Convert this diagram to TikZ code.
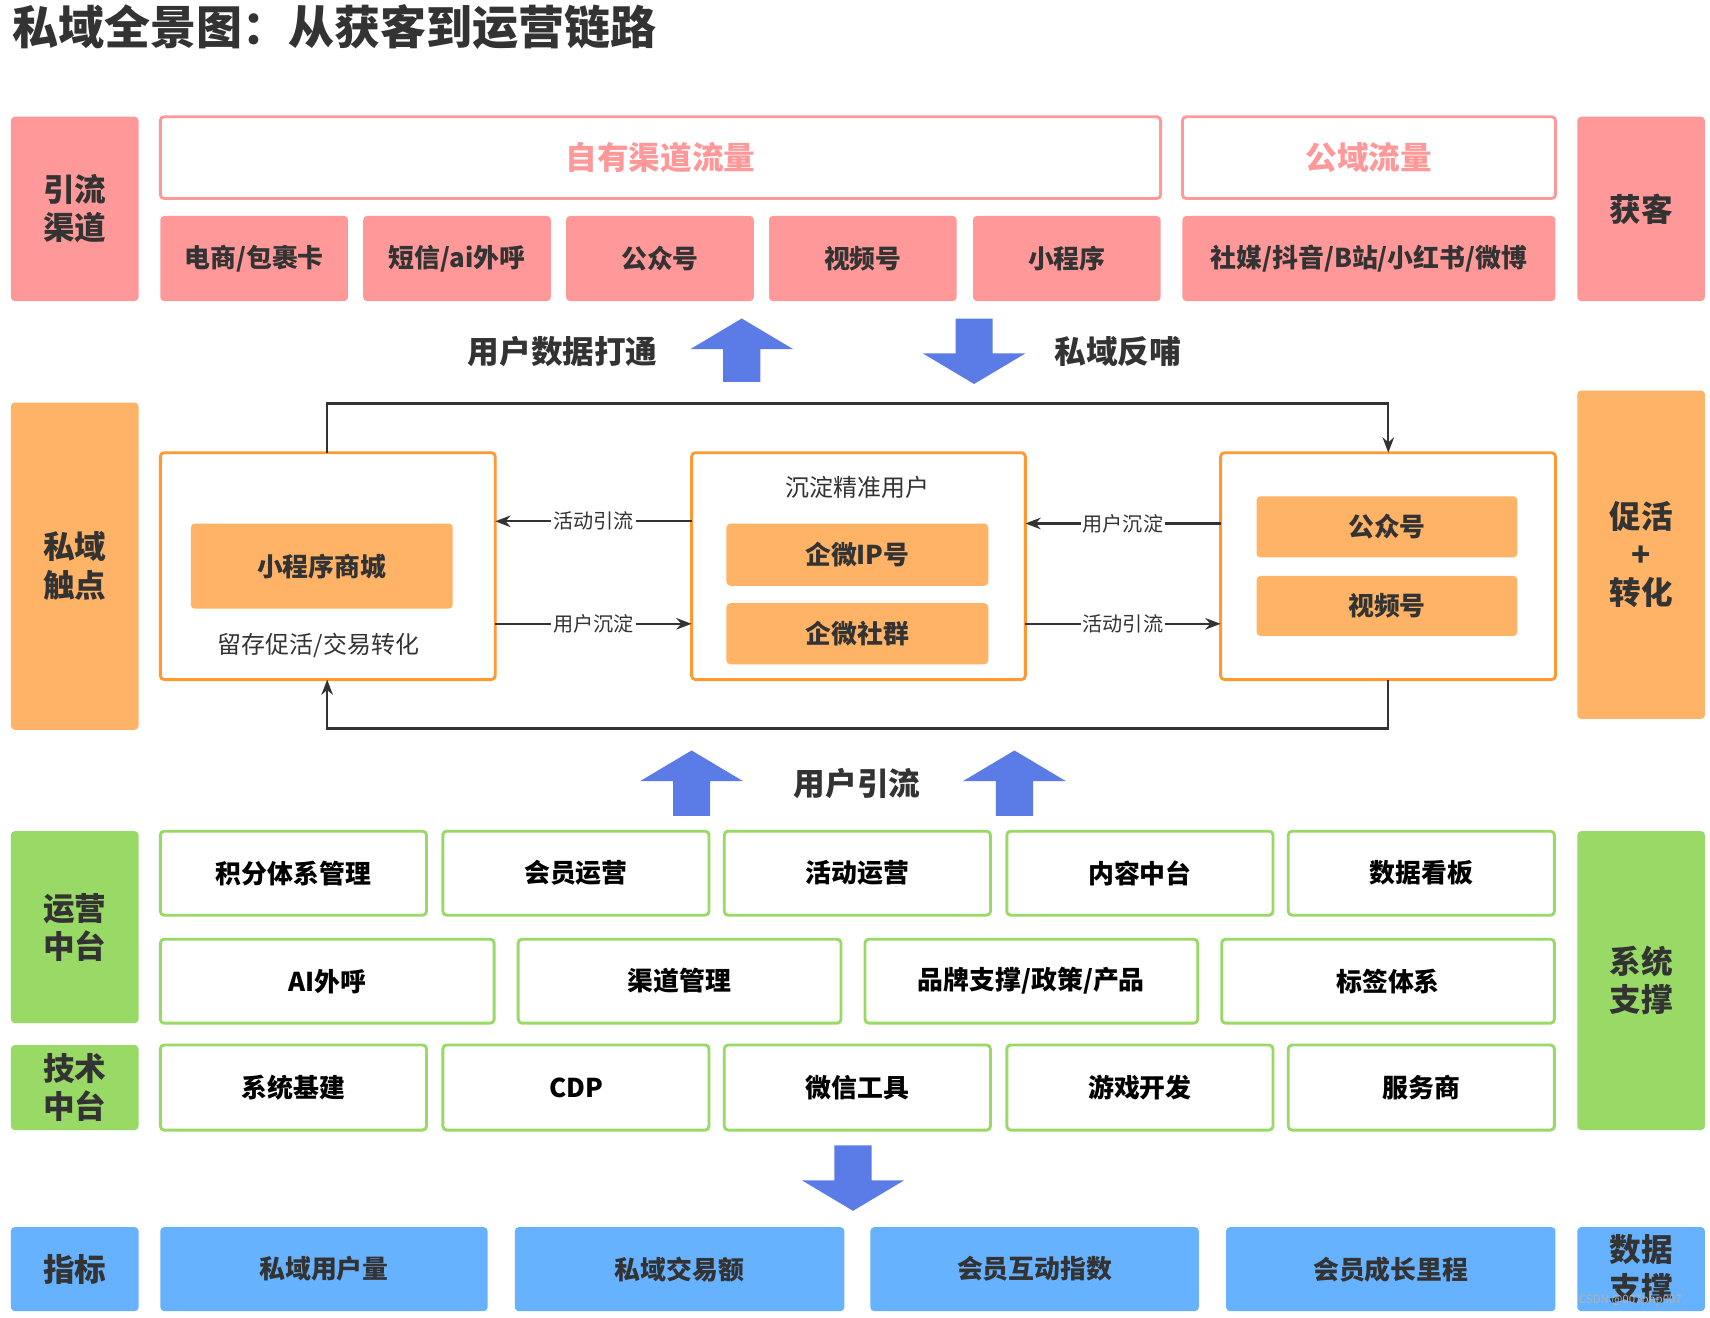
\documentclass[tikz,border=0pt]{standalone}
\usepackage{fontspec}
\setmainfont{Noto Sans CJK SC}
\usetikzlibrary{arrows.meta}
\definecolor{pk}{HTML}{FF9999}
\definecolor{og}{HTML}{FFB366}
\definecolor{ogs}{HTML}{FF9A33}
\definecolor{gr}{HTML}{99D966}
\definecolor{bl}{HTML}{66B2FF}
\definecolor{ab}{HTML}{5B7BE6}
\definecolor{tx}{HTML}{333333}
\newcommand\bx[7]{\node[#6, inner sep=0pt, outer sep=0pt, minimum width={(#4-#2)*0.02cm}, minimum height={(#5-#3)*0.02cm}] (#1) at ({(#2+#4)/2*0.02},{-(#3+#5)/2*0.02}) {#7};}
\newcommand\uparr[4]{\fill[ab] ({(#2-47)*0.02},{-(#3+28)*0.02}) -- ({#2*0.02},{-#3*0.02}) -- ({(#2+47)*0.02},{-(#3+28)*0.02}) -- ({(#2+17)*0.02},{-(#3+28)*0.02}) -- ({(#2+17)*0.02},{-#4*0.02}) -- ({(#2-17)*0.02},{-#4*0.02}) -- ({(#2-17)*0.02},{-(#3+28)*0.02}) -- cycle;}
\newcommand\dnarr[4]{\fill[ab] ({(#2-47)*0.02},{-(#4-28)*0.02}) -- ({#2*0.02},{-#4*0.02}) -- ({(#2+47)*0.02},{-(#4-28)*0.02}) -- ({(#2+17)*0.02},{-(#4-28)*0.02}) -- ({(#2+17)*0.02},{-#3*0.02}) -- ({(#2-17)*0.02},{-#3*0.02}) -- ({(#2-17)*0.02},{-(#4-28)*0.02}) -- cycle;}
\tikzset{
 lab/.style={rounded corners=2pt, text=tx, font=\fontsize{16.5}{20}\selectfont\bfseries, align=center},
 pkf/.style={fill=pk, rounded corners=2pt, text=tx, font=\fontsize{13.5}{16}\selectfont\bfseries},
 pko/.style={draw=pk, line width=1.5pt, fill=white, rounded corners=2pt, text=pk, font=\fontsize{16.5}{20}\selectfont\bfseries},
 ogf/.style={fill=og, rounded corners=2pt, text=tx, font=\fontsize{13.5}{16}\selectfont\bfseries},
 ogo/.style={draw=ogs, line width=1.5pt, fill=white, rounded corners=2pt},
 gro/.style={draw=gr, line width=1.5pt, fill=white, rounded corners=2pt, text=black, font=\fontsize{13.5}{16}\selectfont\bfseries},
 blf/.style={fill=bl, rounded corners=2pt, text=tx, font=\fontsize{13.5}{16}\selectfont\bfseries},
 big/.style={text=tx, font=\fontsize{16.5}{20}\selectfont\bfseries},
 con/.style={draw=tx, line width=1.2pt},
 elab/.style={fill=white, inner sep=1pt, text=tx, font=\fontsize{10.5}{12}\selectfont},
}
\begin{document}
\begin{tikzpicture}
\useasboundingbox[fill=white] (0,0) rectangle (31.36,-24.16);
\node[anchor=west, text=tx, font=\fontsize{24}{28}\selectfont\bfseries] (title) at (0.1,-0.5) {私域全景图：从获客到运营链路};
\bx{l1}{10}{107}{127}{276}{lab,fill=pk}{引流\\渠道}
\bx{l2}{10}{369}{127}{669}{lab,fill=og}{私域\\触点}
\bx{l3}{10}{762}{127}{938}{lab,fill=gr}{运营\\中台}
\bx{l4}{10}{958}{127}{1036}{lab,fill=gr}{技术\\中台}
\bx{l5}{10}{1125}{127}{1202}{lab,fill=bl}{指标}
\bx{r1}{1446}{107}{1563}{276}{lab,fill=pk}{获客}
\bx{r2}{1446}{358}{1563}{659}{lab,fill=og}{促活\\+\\转化}
\bx{r3}{1446}{762}{1563}{1036}{lab,fill=gr}{系统\\支撑}
\bx{r4}{1446}{1125}{1563}{1202}{lab,fill=bl}{数据\\支撑}
\bx{t1}{147}{107}{1064}{182}{pko}{自有渠道流量}
\bx{t2}{1084}{107}{1426}{182}{pko}{公域流量}
\bx{p1}{147}{198}{319}{276}{pkf}{电商/包裹卡}
\bx{p2}{333}{198}{505}{276}{pkf}{短信/ai外呼}
\bx{p3}{519}{198}{691}{276}{pkf}{公众号}
\bx{p4}{705}{198}{877}{276}{pkf}{视频号}
\bx{p5}{892}{198}{1064}{276}{pkf}{小程序}
\bx{p6}{1084}{198}{1426}{276}{pkf}{社媒/抖音/B站/小红书/微博}
\uparr{a1}{680}{292}{350}
\dnarr{a2}{893}{292}{352}
\node[big] (k1) at (10.32,-6.44) {用户数据打通};
\node[big] (k2) at (20.5,-6.44) {私域反哺};
\bx{A}{147}{415}{454}{623}{ogo}{}
\bx{B}{634}{415}{940}{623}{ogo}{}
\bx{C}{1119}{415}{1426}{623}{ogo}{}
\bx{a1b}{175}{480}{415}{558}{ogf}{小程序商城}
\node[text=tx, font=\fontsize{12.5}{14}\selectfont] (a1t) at (5.84,-11.84) {留存促活/交易转化};
\node[text=tx, font=\fontsize{12.5}{14}\selectfont] (b0t) at (15.72,-8.94) {沉淀精准用户};
\bx{b1}{666}{480}{906}{537}{ogf}{企微IP号}
\bx{b2}{666}{553}{906}{609}{ogf}{企微社群}
\bx{c1}{1152}{455}{1391}{511}{ogf}{公众号}
\bx{c2}{1152}{528}{1391}{583}{ogf}{视频号}
\coordinate (q1) at (6.0,-7.4);
\coordinate (q2) at (25.46,-7.4);
\coordinate (q3) at (25.46,-13.36);
\coordinate (q4) at (6.0,-13.36);
\draw[con,-{Stealth[length=8pt]}] (A.north -| q1) -- (q1) -- (q2) -- (C.north -| q2);
\draw[con,-{Stealth[length=8pt]}] (C.south -| q3) -- (q3) -- (q4) -- (A.south -| q4);
\draw[con,-{Stealth[length=8pt]}] (B.west |- 0,-9.56) -- node[elab]{活动引流} (A.east |- 0,-9.56);
\draw[con,-{Stealth[length=8pt]}] (A.east |- 0,-11.44) -- node[elab]{用户沉淀} (B.west |- 0,-11.44);
\draw[con,-{Stealth[length=8pt]}] (C.west |- 0,-9.6) -- node[elab]{用户沉淀} (B.east |- 0,-9.6);
\draw[con,-{Stealth[length=8pt]}] (B.east |- 0,-11.44) -- node[elab]{活动引流} (C.west |- 0,-11.44);
\uparr{a3}{634}{688}{748}
\uparr{a4}{930}{688}{748}
\node[big] (k3) at (15.72,-14.36) {用户引流};
\bx{g1}{147}{762}{391}{839}{gro}{积分体系管理}
\bx{g2}{406}{762}{650}{839}{gro}{会员运营}
\bx{g3}{664}{762}{908}{839}{gro}{活动运营}
\bx{g4}{923}{762}{1167}{839}{gro}{内容中台}
\bx{g5}{1181}{762}{1425}{839}{gro}{数据看板}
\bx{h1}{147}{861}{453}{938}{gro}{AI外呼}
\bx{h2}{475}{861}{771}{938}{gro}{渠道管理}
\bx{h3}{793}{861}{1098}{938}{gro}{品牌支撑/政策/产品}
\bx{h4}{1120}{861}{1425}{938}{gro}{标签体系}
\bx{s1}{147}{958}{391}{1036}{gro}{系统基建}
\bx{s2}{406}{958}{650}{1036}{gro}{CDP}
\bx{s3}{664}{958}{908}{1036}{gro}{微信工具}
\bx{s4}{923}{958}{1167}{1036}{gro}{游戏开发}
\bx{s5}{1181}{958}{1425}{1036}{gro}{服务商}
\dnarr{a5}{782}{1050}{1110}
\bx{m1}{147}{1125}{447}{1202}{blf}{私域用户量}
\bx{m2}{472}{1125}{774}{1202}{blf}{私域交易额}
\bx{m3}{798}{1125}{1099}{1202}{blf}{会员互动指数}
\bx{m4}{1124}{1125}{1426}{1202}{blf}{会员成长里程}
\node[text=gray!60, font=\fontsize{6}{7}\selectfont] (wm) at (29.9,-23.84) {CSDN @007php007};
\end{tikzpicture}
\end{document}
